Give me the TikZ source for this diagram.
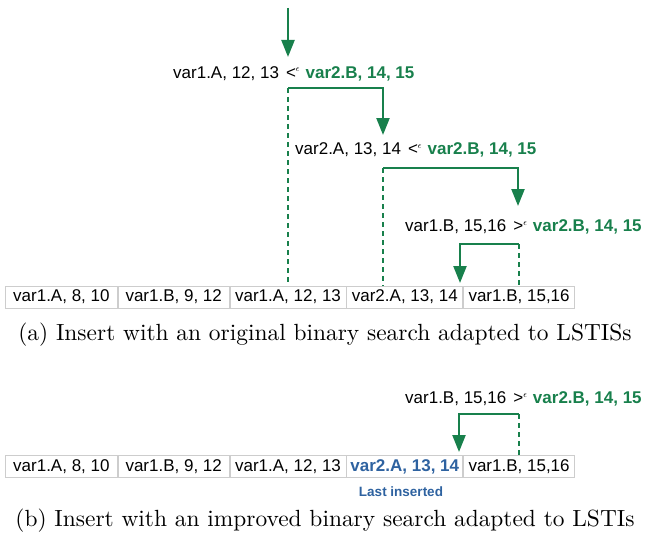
\documentclass[tikz,border=0pt]{standalone}
\usepackage{fontspec}
\setsansfont{Liberation Sans}
\newfontfamily\capfont{lmroman10-regular.otf}
\usetikzlibrary{arrows.meta}
\definecolor{grn}{RGB}{24,128,76}
\definecolor{blu}{RGB}{46,98,160}
\definecolor{cellgray}{RGB}{205,205,205}
\newcommand{\epsup}{\raisebox{6pt}{\fontsize{9}{9}\selectfont$\epsilon$}}
\begin{document}
\begin{tikzpicture}[x=1pt,y=-1pt,
  cell/.style={draw=cellgray, line width=0.8pt, minimum height=22pt, inner sep=0pt, anchor=west,
               font=\sffamily\fontsize{17}{20}\selectfont},
  lbl/.style={anchor=base west, inner sep=0pt, font=\sffamily\fontsize{17}{20}\selectfont},
  flow/.style={draw=grn, line width=2.3pt, line join=miter},
  tipped/.style={-{Triangle[width=13pt,length=17pt]}},
  probe/.style={draw=grn, line width=2.3pt, dash pattern=on 5pt off 4pt},
  captxt/.style={inner sep=0pt, font=\capfont\fontsize{23.4}{28}\selectfont},
  newest/.style={text=blu, font=\sffamily\bfseries\fontsize{17}{20}\selectfont}
]
\useasboundingbox (0,0) rectangle (651,543);

% ---------- (a) ----------
% table
\node[cell, minimum width=112pt] (a1) at (5,297) {var1.A, 8, 10};
\node[cell, minimum width=111pt] (a2) at (a1.east) {var1.B, 9, 12};
\node[cell, minimum width=116pt] (a3) at (a2.east) {var1.A, 12, 13};
\node[cell, minimum width=116pt] (a4) at (a3.east) {var2.A, 13, 14};
\node[cell, minimum width=111pt] (a5) at (a4.east) {var1.B, 15,16};

% comparisons
\node[lbl] (q1) at (173,78) {var1.A, 12, 13\hspace{7pt}<\epsup\hspace{6pt}\textcolor{grn}{\bfseries var2.B, 14, 15}};
\node[lbl] (q2) at (295,154) {var2.A, 13, 14\hspace{7pt}<\epsup\hspace{6pt}\textcolor{grn}{\bfseries var2.B, 14, 15}};
\node[lbl] (q3) at (405,231) {var1.B, 15,16\hspace{7pt}>\epsup\hspace{6pt}\textcolor{grn}{\bfseries var2.B, 14, 15}};

\coordinate (s0) at (288,8);
\coordinate (t1) at (288,57);
\coordinate (c1) at (288,88);
\coordinate (c1r) at (383,88);
\coordinate (t2) at (383,135);
\coordinate (c2) at (383,168);
\coordinate (c2r) at (518,168);
\coordinate (t3) at (518,206);
\coordinate (c3) at (519,244);
\coordinate (c3l) at (460,244);
\coordinate (t4) at (460,283);

\draw[flow,tipped] (s0) -- (t1);
\draw[flow,tipped] (c1) -- (c1r) -- (t2);
\draw[probe] (c1) -- (c1 |- a3.north);
\draw[flow,tipped] (c2) -- (c2r) -- (t3);
\draw[probe] (c2) -- (c2 |- a4.north);
\draw[flow,tipped] (c3) -- (c3l) -- (t4);
\draw[probe] (c3) -- (c3 |- a5.north);

\node[captxt] (capa) at (325,335) {(a) Insert with an original binary search adapted to LSTISs};

% ---------- (b) ----------
\node[cell, minimum width=112pt] (b1) at (5,466.5) {var1.A, 8, 10};
\node[cell, minimum width=111pt] (b2) at (b1.east) {var1.B, 9, 12};
\node[cell, minimum width=116pt] (b3) at (b2.east) {var1.A, 12, 13};
\node[cell, minimum width=116pt, newest] (b4) at (b3.east) {var2.A, 13, 14};
\node[cell, minimum width=111pt] (b5) at (b4.east) {var1.B, 15,16};

\node[lbl] (q4) at (405,403) {var1.B, 15,16\hspace{7pt}>\epsup\hspace{6pt}\textcolor{grn}{\bfseries var2.B, 14, 15}};

\coordinate (c4) at (519,414);
\coordinate (c4l) at (459,414);
\coordinate (t5) at (459,452);
\draw[flow,tipped] (c4) -- (c4l) -- (t5);
\draw[probe] (c4) -- (c4 |- b5.north);

\node[inner sep=0pt, text=blu, font=\sffamily\bfseries\fontsize{13.5}{16}\selectfont] (last) at (401,492) {Last inserted};

\node[captxt] (capb) at (325,521) {(b) Insert with an improved binary search adapted to LSTIs};
\end{tikzpicture}
\end{document}
